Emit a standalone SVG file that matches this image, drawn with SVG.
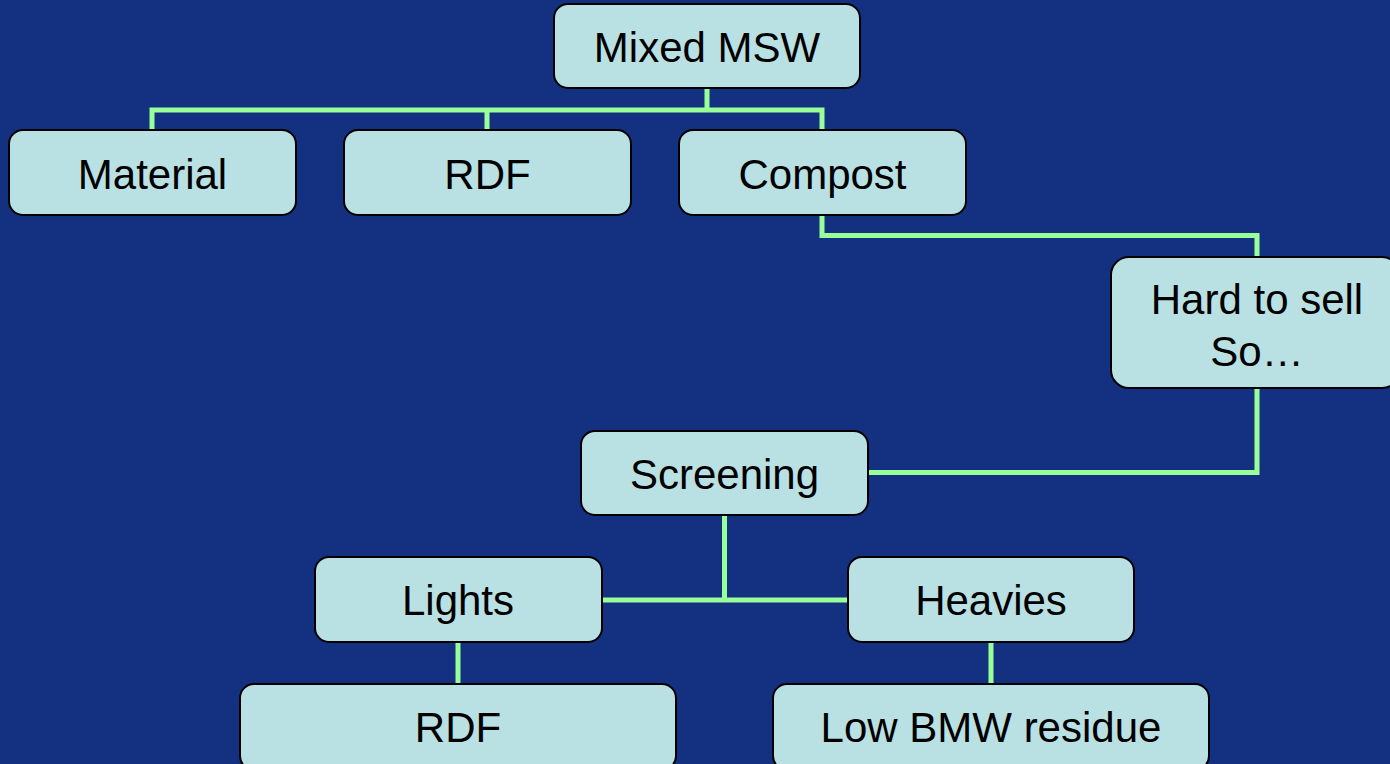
<svg xmlns="http://www.w3.org/2000/svg" width="1390" height="764" viewBox="0 0 1390 764">
<style>
.bg{fill:#133180}
.box{fill:#B9E0E3;stroke:#000;stroke-width:2}
.lbl{font-family:"Liberation Sans",Arial,sans-serif;font-size:42px;fill:#000;text-anchor:middle}
.con{fill:none;stroke:#99FF99;stroke-width:5;stroke-linejoin:miter;stroke-linecap:butt}
</style>
<rect class="bg" x="0" y="0" width="1390" height="764"/>
<g id="connectors">
<path class="con" d="M707,88 V110 M152,130 V110 H822 V130 M487,110 V130"/>
<path class="con" d="M822,215 V235.5 H1257 V257"/>
<path class="con" d="M1257,388 V472.5 H868"/>
<path class="con" d="M724.5,515 V600 M601,600 H848"/>
<path class="con" d="M458,642 V684"/>
<path class="con" d="M991,642 V684"/>
</g>
<g id="n-mixed"><rect class="box" x="554" y="4" width="306" height="84" rx="14"/><text class="lbl" x="707" y="62">Mixed MSW</text></g>
<g id="n-material"><rect class="box" x="9" y="130" width="287" height="85" rx="14"/><text class="lbl" x="152.5" y="189">Material</text></g>
<g id="n-rdf1"><rect class="box" x="344" y="130" width="287" height="85" rx="14"/><text class="lbl" x="487.5" y="189">RDF</text></g>
<g id="n-compost"><rect class="box" x="679" y="130" width="287" height="85" rx="14"/><text class="lbl" x="822.5" y="189">Compost</text></g>
<g id="n-hard"><rect class="box" x="1111" y="257" width="289" height="131" rx="18"/><text class="lbl" x="1257" y="314">Hard to sell</text><text class="lbl" x="1257" y="366">So…</text></g>
<g id="n-screening"><rect class="box" x="581" y="431" width="287" height="84" rx="14"/><text class="lbl" x="724.5" y="489">Screening</text></g>
<g id="n-lights"><rect class="box" x="315" y="557" width="287" height="85" rx="14"/><text class="lbl" x="458" y="615">Lights</text></g>
<g id="n-heavies"><rect class="box" x="848" y="557" width="286" height="85" rx="14"/><text class="lbl" x="991" y="615">Heavies</text></g>
<g id="n-rdf2"><rect class="box" x="240" y="684" width="436" height="86" rx="14"/><text class="lbl" x="458" y="742">RDF</text></g>
<g id="n-lowbmw"><rect class="box" x="773" y="684" width="436" height="86" rx="14"/><text class="lbl" x="991" y="742">Low BMW residue</text></g>
</svg>
